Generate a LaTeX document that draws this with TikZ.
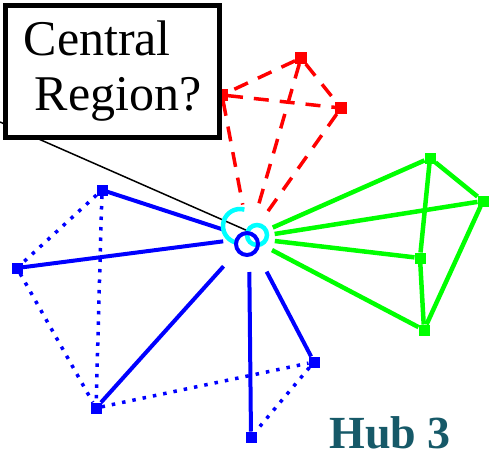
\documentclass[tikz,border=0pt]{standalone}
\usepackage{fontspec}
\setmainfont{Liberation Serif}
\usepackage{tikz}
\usepackage{tkz-graph}
\usetikzlibrary{arrows}
\definecolor{hubteal}{RGB}{22,89,104}
\definecolor{ringcyan}{RGB}{0,255,255}
\definecolor{grpgreen}{RGB}{0,255,0}
\definecolor{grpblue}{RGB}{0,0,255}
\definecolor{grpred}{RGB}{255,0,0}

\begin{document}
\begin{tikzpicture}[x=1pt,y=-1pt]
\useasboundingbox (0,0) rectangle (500,469);
\GraphInit[vstyle=Normal]
\SetVertexNoLabel
\tikzset{VertexStyle/.style={circle, minimum size=52pt, inner sep=0pt}}
\Vertex[x=249,y=238]{hub}
% pointer from the box
\coordinate (ptr) at (0,122);
\coordinate (tip) at (248,231);
\draw[line width=1.5pt] (ptr) -- (tip);
% red group
\tikzset{VertexStyle/.style={rectangle, fill=grpred, minimum size=12pt, inner sep=0pt}}
\Vertex[x=301,y=58]{R1}
\Vertex[x=341,y=108]{R2}
\Vertex[x=222,y=95]{R3}
\tikzset{EdgeStyle/.style={draw, grpred, line width=3.5pt, dash pattern=on 15pt off 11pt}}
\Edge(R1)(R2)
\Edge(R1)(R3)
\Edge(R3)(R2)
\Edge[style={shorten >=8pt}](R1)(hub)
\Edge[style={shorten >=6pt}](R2)(hub)
\Edge[style={shorten >=8pt}](R3)(hub)
% blue group
\tikzset{VertexStyle/.style={rectangle, fill=grpblue, minimum size=11pt, inner sep=0pt}}
\Vertex[x=102,y=190]{B1}
\Vertex[x=17,y=268]{B2}
\Vertex[x=96,y=408]{B3}
\Vertex[x=251,y=437]{B4}
\Vertex[x=314,y=362]{B5}
\tikzset{EdgeStyle/.style={draw, grpblue, line width=4pt}}
\Edge(hub)(B1)
\Edge(hub)(B2)
\Edge[style={shorten <=12pt}](hub)(B3)
\Edge[style={shorten <=8pt}](hub)(B4)
\Edge[style={shorten <=12pt}](hub)(B5)
\tikzset{EdgeStyle/.style={draw, grpblue, line width=3.5pt, dash pattern=on 3.5pt off 7pt}}
\Edge(B1)(B2)
\Edge(B1)(B3)
\Edge(B2)(B3)
\Edge(B3)(B5)
\Edge(B5)(B4)
% green group
\tikzset{VertexStyle/.style={rectangle, fill=grpgreen, minimum size=11pt, inner sep=0pt}}
\Vertex[x=430,y=158]{G1}
\Vertex[x=483,y=201]{G2}
\Vertex[x=420,y=258]{G3}
\Vertex[x=424,y=330]{G4}
\tikzset{EdgeStyle/.style={draw, grpgreen, line width=4.5pt}}
\Edge(hub)(G1)
\Edge(hub)(G2)
\Edge(hub)(G3)
\Edge(hub)(G4)
\Edge(G1)(G2)
\Edge(G1)(G3)
\Edge(G3)(G4)
\Edge(G2)(G4)
% rings at the centre
\draw[ringcyan, line width=4.5pt] (240,226) ++(75:17pt) arc[start angle=75, end angle=255, radius=17pt];
\draw[ringcyan, line width=4.5pt] (257,235) circle[radius=10pt];
\draw[grpblue, line width=4pt] (247,244) circle[radius=11pt];
% labels
\node[draw, line width=5pt, fill=white, minimum width=214pt, minimum height=132pt,
      align=left, font=\fontsize{50}{55}\selectfont] (box) at (112.5,71.5)
      {Central\\\hspace*{11pt}Region?};
\node[anchor=base, text=hubteal, font=\fontsize{46}{50}\selectfont\bfseries] (hubname) at (390,448) {Hub 3};
\end{tikzpicture}
\end{document}
